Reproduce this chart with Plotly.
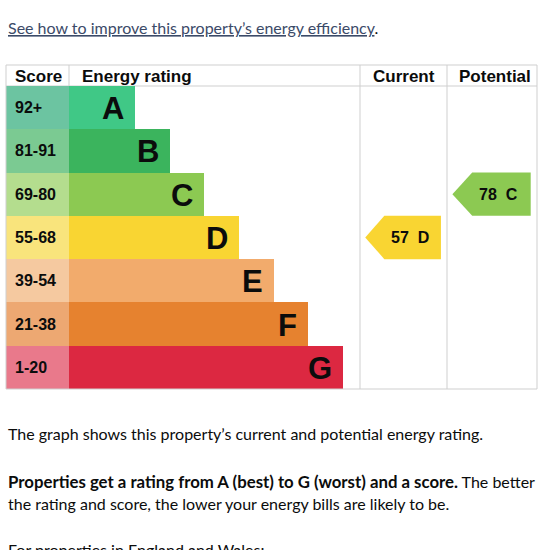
import plotly.graph_objects as go

# ---------------- data ----------------
bands = ["A", "B", "C", "D", "E", "F", "G"]
score_ranges = ["92+", "81-91", "69-80", "55-68", "39-54", "21-38", "1-20"]
band_min_score = [92, 81, 69, 55, 39, 21, 1]
bar_rank = [1, 2, 3, 4, 5, 6, 7]
current_score = 57
potential_score = 78
column_headers = ["Score", "Energy rating", "Current", "Potential"]

# ---------------- styles ----------------
bar_colors = ["#40c886", "#3bb45d", "#8cc952", "#f9d532", "#f2ab6c", "#e6822f", "#dc2841"]
score_colors = ["#6cc4a1", "#7bca92", "#b4dd8e", "#f9e47c", "#f5c9a0", "#eda872", "#e9798b"]
W, H = 550, 550
FONT_ARIAL = "Liberation Sans, Arial, sans-serif"
FONT_BODY = "Lato, sans-serif"
TXT = "#0b0c0c"
GRID = "#cfcfcf"
BAR_BASE = -0.904


def px(x):
    return x / W


def py(y):
    return 1 - y / H


def band_index(score):
    for i, m in enumerate(band_min_score):
        if score >= m:
            return i
    return len(bands) - 1


idx = list(range(len(bands)))
fig = go.Figure()

# score column cells
fig.add_trace(go.Bar(orientation="h", y=idx, x=[1] * len(idx), base=0, width=1,
                     marker=dict(color=score_colors, line=dict(width=0)),
                     xaxis="x2", yaxis="y", hoverinfo="skip", showlegend=False))
# rating bars
fig.add_trace(go.Bar(orientation="h", y=idx, x=[r - BAR_BASE for r in bar_rank], base=BAR_BASE,
                     width=1, marker=dict(color=bar_colors, line=dict(width=0)),
                     xaxis="x", yaxis="y", hoverinfo="skip", showlegend=False))

annotations = []
for i in idx:
    annotations.append(dict(x=0, y=i, xref="x2", yref="y", text="<b>%s</b>" % score_ranges[i],
                            xanchor="left", yanchor="middle", xshift=7, showarrow=False,
                            font=dict(family=FONT_ARIAL, size=16, color=TXT)))
    annotations.append(dict(x=bar_rank[i], y=i, xref="x", yref="y", text="<b>%s</b>" % bands[i],
                            xanchor="right", yanchor="middle", xshift=-9, yshift=-1, showarrow=False,
                            font=dict(family=FONT_ARIAL, size=31, color=TXT)))

# arrows for current / potential
TIP, SHOULDER, END = 0.06, 0.28, 0.93
for score, xa in [(current_score, "x3"), (potential_score, "x4")]:
    r = band_index(score)
    fig.add_trace(go.Scatter(x=[TIP, SHOULDER, END, END, SHOULDER, TIP],
                             y=[r, r - 0.5, r - 0.5, r + 0.5, r + 0.5, r],
                             fill="toself", mode="lines", line=dict(width=0),
                             fillcolor=bar_colors[r], xaxis=xa, yaxis="y",
                             hoverinfo="skip", showlegend=False))
    annotations.append(dict(x=0.57, y=r, xref=xa, yref="y",
                            text="<b>%d&nbsp;&nbsp;%s</b>" % (score, bands[r]),
                            xanchor="center", yanchor="middle", showarrow=False,
                            font=dict(family=FONT_ARIAL, size=16, color=TXT)))

# header texts
hdr_pos = [(13, "left"), (80, "left"), (404, "center"), (495, "center")]
for (x, anc), t in zip(hdr_pos, column_headers):
    annotations.append(dict(x=px(x), y=py(76), xref="paper", yref="paper", text="<b>%s</b>" % t,
                            xanchor=anc, yanchor="middle", showarrow=False,
                            font=dict(family=FONT_ARIAL, size=17, color=TXT)))

# page texts
body_lines = [
    (28, "<span style='color:#3b4a68'><u>See how to improve this property’s energy efficiency</u></span>."),
    (433, "The graph shows this property’s current and potential energy rating."),
    (481, "<span style='font-size:16.8px'><b>Properties get a rating from A (best) to G (worst) and a score.</b></span> The better"),
    (503, "the rating and score, the lower your energy bills are likely to be."),
    (549, "For properties in England and Wales:"),
]
for y, t in body_lines:
    annotations.append(dict(x=px(6), y=py(y), xref="paper", yref="paper", text=t,
                            xanchor="left", yanchor="middle", showarrow=False,
                            font=dict(family=FONT_BODY, size=16, color=TXT)))

# table lines
shapes = []
line = dict(color=GRID, width=1)
shapes.append(dict(type="rect", xref="paper", yref="paper", x0=px(6), x1=px(537),
                   y0=py(65), y1=py(389), line=line, layer="above"))
for x in [69, 360, 447]:
    shapes.append(dict(type="line", xref="paper", yref="paper", x0=px(x), x1=px(x),
                       y0=py(65), y1=py(389), line=line, layer="below"))
shapes.append(dict(type="line", xref="paper", yref="paper", x0=px(6), x1=px(537),
                   y0=py(86), y1=py(86), line=line, layer="below"))

hidden = dict(showgrid=False, zeroline=False, showticklabels=False, ticks="", fixedrange=True)
fig.update_layout(
    width=W, height=H, margin=dict(l=0, r=0, t=0, b=0),
    paper_bgcolor="white", plot_bgcolor="rgba(0,0,0,0)",
    bargap=0, showlegend=False,
    xaxis=dict(domain=[px(69), px(360)], range=[BAR_BASE, BAR_BASE + 291 / 34.67], anchor="y", **hidden),
    xaxis2=dict(domain=[px(6), px(69)], range=[0, 1], anchor="y", **hidden),
    xaxis3=dict(domain=[px(360), px(447)], range=[0, 1], anchor="y", **hidden),
    xaxis4=dict(domain=[px(447), px(537)], range=[0, 1], anchor="y", **hidden),
    yaxis=dict(domain=[py(389), py(86)], range=[6.5, -0.5], **hidden),
    annotations=annotations, shapes=shapes,
)

fig.write_html("out.html", config={"displayModeBar": False})
